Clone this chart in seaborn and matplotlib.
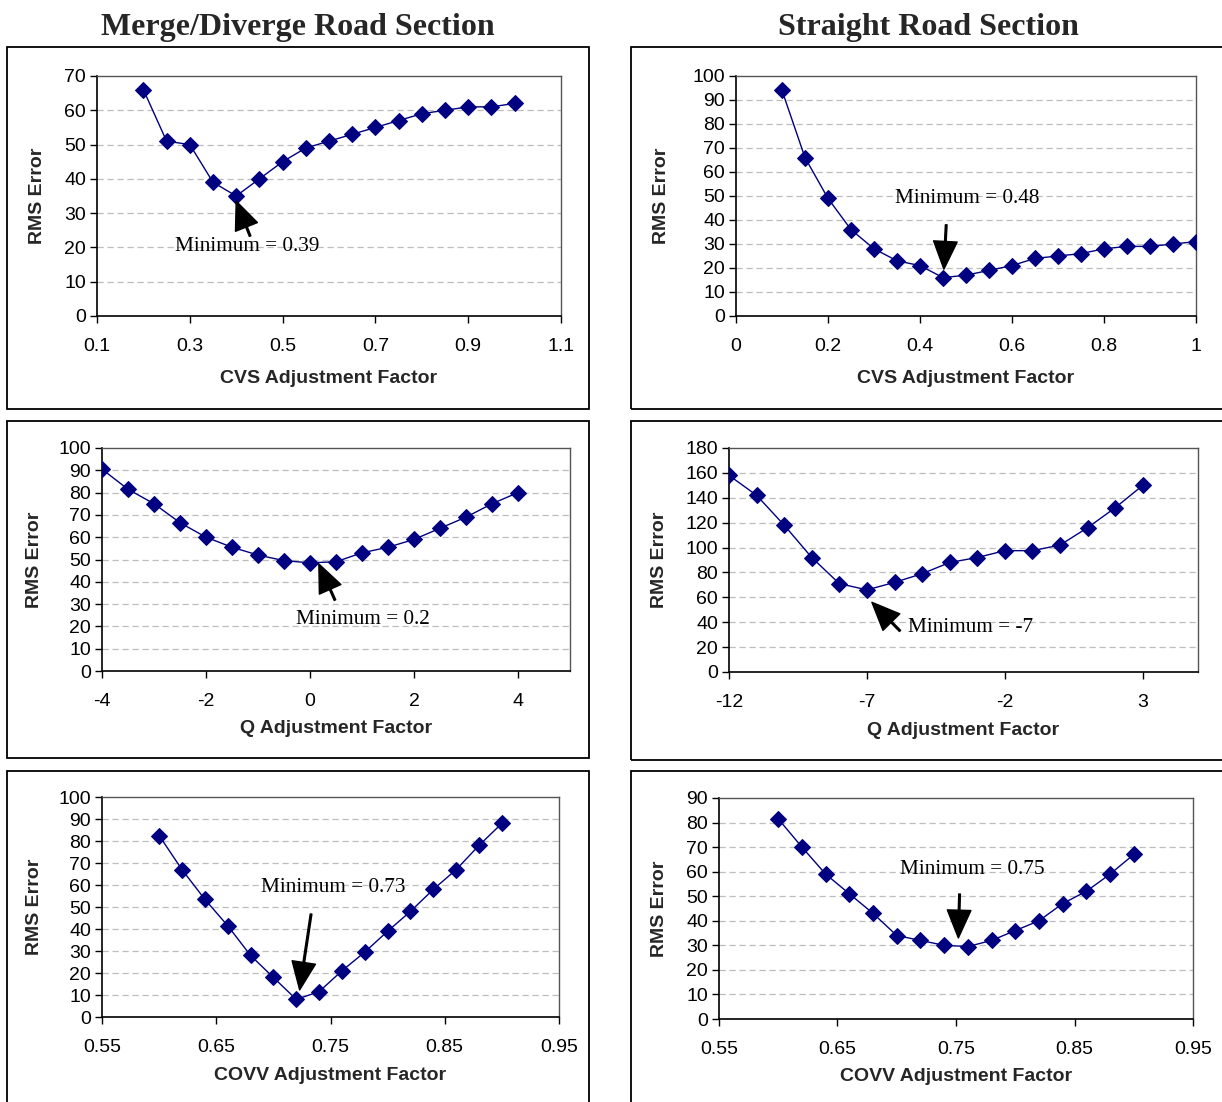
import numpy as np
import pandas as pd
import matplotlib
matplotlib.use("Agg")
import matplotlib.pyplot as plt
from matplotlib.patches import Rectangle
import seaborn as sns

# ---------------- data ----------------
titles = ["Merge/Diverge Road Section", "Straight Road Section"]

# Merge/Diverge - CVS
md_cvs_x = [0.20, 0.25, 0.30, 0.35, 0.40, 0.45, 0.50, 0.55, 0.60, 0.65, 0.70, 0.75, 0.80, 0.85, 0.90, 0.95, 1.00]
md_cvs_y = [66, 51, 50, 39, 35, 40, 45, 49, 51, 53, 55, 57, 59, 60, 61, 61, 62]
# Straight - CVS
st_cvs_x = [0.10, 0.15, 0.20, 0.25, 0.30, 0.35, 0.40, 0.45, 0.50, 0.55, 0.60, 0.65, 0.70, 0.75, 0.80, 0.85, 0.90, 0.95, 1.00]
st_cvs_y = [94, 66, 49, 36, 28, 23, 21, 16, 17, 19, 21, 24, 25, 26, 28, 29, 29, 30, 31]
# Merge/Diverge - Q
md_q_x = [-4, -3.5, -3, -2.5, -2, -1.5, -1, -0.5, 0, 0.5, 1, 1.5, 2, 2.5, 3, 3.5, 4]
md_q_y = [90.5, 81.5, 75, 66.5, 60, 55.5, 52, 49.5, 48.5, 49, 53, 55.5, 59, 64, 69, 75, 80]
# Straight - Q
st_q_x = [-12, -11, -10, -9, -8, -7, -6, -5, -4, -3, -2, -1, 0, 1, 2, 3]
st_q_y = [158, 142, 118, 92, 71, 66, 72, 79, 88, 92, 97.5, 97.5, 102, 116, 132, 150]
# Merge/Diverge - COVV
md_covv_x = [0.60, 0.62, 0.64, 0.66, 0.68, 0.70, 0.72, 0.74, 0.76, 0.78, 0.80, 0.82, 0.84, 0.86, 0.88, 0.90]
md_covv_y = [82.5, 67, 53.5, 41.5, 28, 18, 8, 11.5, 21, 29.5, 39, 48, 58, 67, 78, 88]
# Straight - COVV
st_covv_x = [0.60, 0.62, 0.64, 0.66, 0.68, 0.70, 0.72, 0.74, 0.76, 0.78, 0.80, 0.82, 0.84, 0.86, 0.88, 0.90]
st_covv_y = [81.5, 70, 59, 51, 43, 34, 32, 30, 29.5, 32, 36, 40, 47, 52, 59, 67]

x_labels = ["CVS Adjustment Factor", "CVS Adjustment Factor",
            "Q Adjustment Factor", "Q Adjustment Factor",
            "COVV Adjustment Factor", "COVV Adjustment Factor"]
y_label = "RMS Error"

xtick_vals = [[0.1, 0.3, 0.5, 0.7, 0.9, 1.1],
              [0, 0.2, 0.4, 0.6, 0.8, 1.0],
              [-4, -2, 0, 2, 4],
              [-12, -7, -2, 3],
              [0.55, 0.65, 0.75, 0.85, 0.95],
              [0.55, 0.65, 0.75, 0.85, 0.95]]
xtick_text = [["0.1", "0.3", "0.5", "0.7", "0.9", "1.1"],
              ["0", "0.2", "0.4", "0.6", "0.8", "1"],
              ["-4", "-2", "0", "2", "4"],
              ["-12", "-7", "-2", "3"],
              ["0.55", "0.65", "0.75", "0.85", "0.95"],
              ["0.55", "0.65", "0.75", "0.85", "0.95"]]
ytick_max = [70, 100, 100, 180, 100, 90]
ytick_step = [10, 10, 10, 20, 10, 10]

annot_text = ["Minimum = 0.39", "Minimum = 0.48", "Minimum = 0.2",
              "Minimum = -7", "Minimum = 0.73", "Minimum = 0.75"]

# ---------------- layout (pixels) ----------------
W, H = 1222, 1102
axes_px = [(97, 76, 561, 316), (736, 76, 1196, 316),
           (102, 448, 570, 671), (729, 448, 1198, 672),
           (102, 797, 559, 1017), (719, 798, 1193, 1019)]
xlims = [(0.1, 1.1), (0, 1.0), (-4, 5), (-12, 5), (0.55, 0.95), (0.55, 0.95)]
frames_px = [(7, 47, 589, 409), (631, 47, 1240, 409),
             (7, 421, 589, 758), (631, 421, 1240, 760),
             (7, 771, 589, 1120), (631, 771, 1240, 1120)]
ylab_x = [-0.110, -0.143, -0.126, -0.130, -0.129, -0.108]
xlab_y = [-0.225, -0.225, -0.220, -0.223, -0.227, -0.222]
# annotation positions: (text_x, text_y, tail_x, tail_y, tip_x, tip_y) in data coords
annot_pos = [(0.268, 20.4, 0.43, 23.3, 0.40, 33.5),
             (0.346, 48.8, 0.457, 38.0, 0.452, 19.5),
             (-0.27, 22.9, 0.48, 31.8, 0.17, 48.0),
             (-5.51, 35.4, -5.8, 33.0, -6.82, 56.0),
             (0.689, 59.0, 0.733, 46.8, 0.723, 12.3),
             (0.703, 61.0, 0.753, 50.9, 0.752, 33.0)]

series = [(md_cvs_x, md_cvs_y), (st_cvs_x, st_cvs_y),
          (md_q_x, md_q_y), (st_q_x, st_q_y),
          (md_covv_x, md_covv_y), (st_covv_x, st_covv_y)]

sns.set_theme(style="white")
plt.rcParams["font.family"] = ["Liberation Sans", "DejaVu Sans"]

fig = plt.figure(figsize=(W / 100, H / 100), dpi=100)
fig.patch.set_facecolor("white")

# panel frames
for (l, t, r, b) in frames_px:
    fig.patches.append(Rectangle((l / W, 1 - b / H), (r - l) / W, (b - t) / H,
                                 transform=fig.transFigure, fill=False,
                                 edgecolor="black", linewidth=1.3, zorder=0))

# titles
fig.text(298 / W, 1 - 27 / H, titles[0], ha="center", va="center",
         fontfamily="Liberation Serif", fontweight="bold", fontsize=23)
fig.text(928 / W, 1 - 27 / H, titles[1], ha="center", va="center",
         fontfamily="Liberation Serif", fontweight="bold", fontsize=23)

navy = "#000080"
for i, ((xs, ys), (l, t, r, b)) in enumerate(zip(series, axes_px)):
    ax = fig.add_axes([l / W, 1 - b / H, (r - l) / W, (b - t) / H])
    df = pd.DataFrame({"x": xs, "y": ys})
    sns.lineplot(data=df, x="x", y="y", ax=ax, color=navy, linewidth=1.0,
                 marker="D", markersize=7.8, markeredgecolor=navy,
                 markerfacecolor=navy, zorder=3)
    ax.set_xlim(*xlims[i])
    ax.set_ylim(0, ytick_max[i])
    yt = list(range(0, ytick_max[i] + 1, ytick_step[i]))
    ax.set_yticks(yt)
    ax.set_yticklabels([str(v) for v in yt])
    ax.set_xticks(xtick_vals[i])
    ax.set_xticklabels(xtick_text[i])
    for v in yt[1:-1]:
        ax.axhline(v, color="#bdbdbd", linestyle=(0, (5, 3)), linewidth=0.9, zorder=1)
    ax.tick_params(axis="both", which="major", direction="out", length=5,
                   width=1, color="black", labelsize=14, pad=3,
                   bottom=True, left=True, labelcolor="black")
    ax.tick_params(axis="x", pad=11)
    for s in ["left", "bottom"]:
        ax.spines[s].set_color("black")
        ax.spines[s].set_linewidth(1.2)
    for s in ["top", "right"]:
        ax.spines[s].set_color("#555555")
        ax.spines[s].set_linewidth(1.0)
    ax.set_xlabel(x_labels[i], fontsize=14, fontweight="bold")
    ax.set_ylabel(y_label, fontsize=14, fontweight="bold")
    ax.xaxis.set_label_coords(0.5, xlab_y[i])
    ax.yaxis.set_label_coords(ylab_x[i], 0.5)
    tx, ty, ax0, ay0, ax1, ay1 = annot_pos[i]
    ax.text(tx, ty, annot_text[i], fontfamily="Liberation Serif", fontsize=15.3,
            ha="left", va="center", color="black", zorder=5)
    ax.annotate("", xy=(ax1, ay1), xytext=(ax0, ay0),
                arrowprops=dict(facecolor="black", edgecolor="black",
                                width=1.2, headwidth=17, headlength=20, shrink=0.0),
                zorder=6)
    ax.set_facecolor("white")

fig.savefig("out.png", dpi=100, facecolor="white")
